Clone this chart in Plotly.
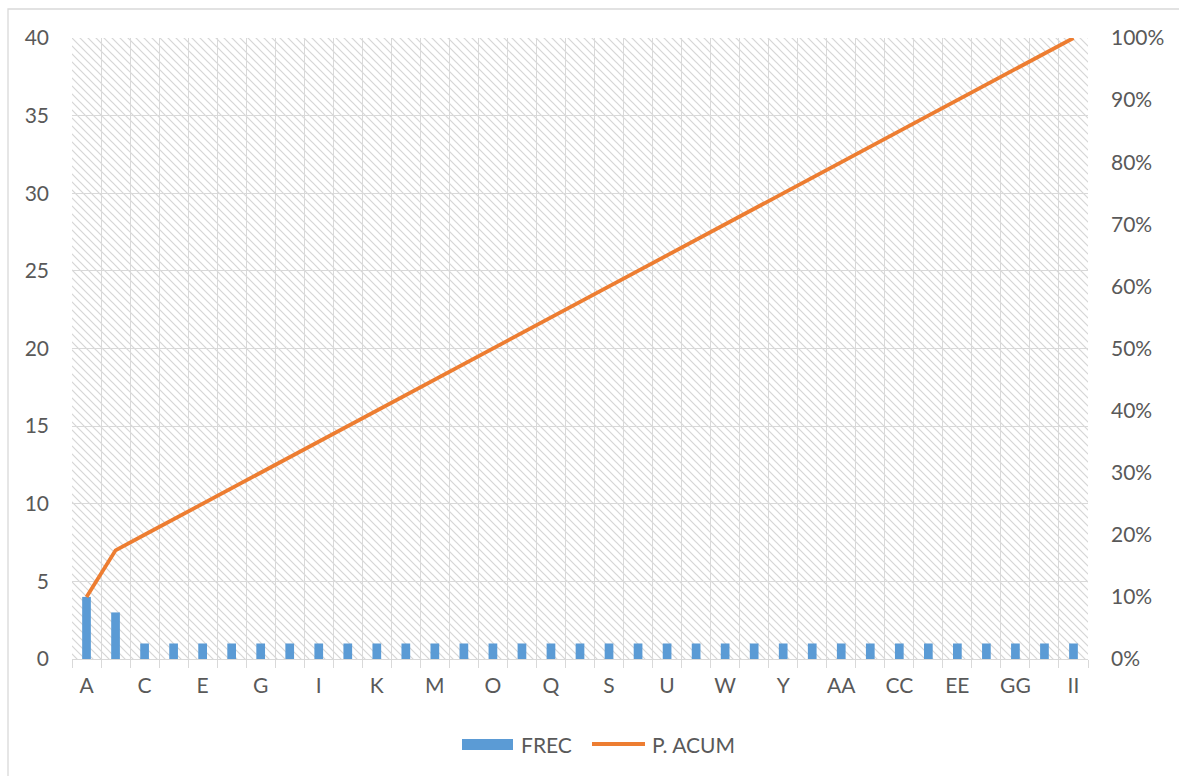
import plotly.graph_objects as go

# Categories A..Z, then AA..II
categories = [chr(c) for c in range(ord("A"), ord("Z") + 1)] + \
    ["AA", "BB", "CC", "DD", "EE", "FF", "GG", "HH", "II"]

# Frequency per category
frec = [4, 3] + [1] * 33

# Cumulative percentage per category
p_acum = [0.100, 0.175, 0.200, 0.225, 0.250, 0.275, 0.300, 0.325, 0.350,
          0.375, 0.400, 0.425, 0.450, 0.475, 0.500, 0.525, 0.550, 0.575,
          0.600, 0.625, 0.650, 0.675, 0.700, 0.725, 0.750, 0.775, 0.800,
          0.825, 0.850, 0.875, 0.900, 0.925, 0.950, 0.975, 1.000]

# Every other category gets a visible label
tick_text = [c if i % 2 == 0 else "" for i, c in enumerate(categories)]

W, H = 1179, 776
L, R, T, B = 72, 91, 38, 117
PW, PH = W - L - R, H - T - B

FONT = "Lato, 'Open Sans', sans-serif"
FS = 21
GRID = "#d9d9d9"
TEXT = "#595959"
BLUE = "#5b9bd5"
ORANGE = "#ed7d31"

# Diagonal hatch used as the plot-area fill
S = 8
hatch_svg = (
    f"<svg xmlns='http://www.w3.org/2000/svg' width='{PW}' height='{PH}'>"
    f"<defs><pattern id='h' patternUnits='userSpaceOnUse' width='{S}' height='{S}'>"
    f"<rect width='{S}' height='{S}' fill='white'/>"
    f"<path d='M-1,-1 L{S+1},{S+1} M-1,{S-1} L1,{S+1} M{S-1},-1 L{S+1},1' "
    "stroke='%23d6d6d6' stroke-width='1.2'/>"
    "</pattern></defs>"
    f"<rect width='{PW}' height='{PH}' fill='url(%23h)'/></svg>"
)
hatch_uri = "data:image/svg+xml;utf8," + hatch_svg.replace("<", "%3C").replace(">", "%3E").replace("'", "%27").replace(" ", "%20")


def px_x(px):
    return (px - L) / PW


def px_y(py):
    return (H - B - py) / PH


fig = go.Figure()
fig.add_trace(go.Bar(
    x=categories, y=frec, name="FREC",
    marker=dict(color=BLUE, line=dict(width=0)),
    width=0.3,
))
fig.add_trace(go.Scatter(
    x=categories, y=p_acum, name="P. ACUM", yaxis="y2",
    mode="lines", line=dict(color=ORANGE, width=3.8),
))

# Legend drawn below the plot: swatch + label for each series
legend_y = 744
shapes = [
    dict(type="rect", xref="paper", yref="paper",
         x0=px_x(8), x1=px_x(W + 20), y0=px_y(H + 20), y1=px_y(9),
         line=dict(color=GRID, width=1.3), fillcolor="rgba(0,0,0,0)",
         layer="below"),
    dict(type="rect", xref="paper", yref="paper",
         x0=px_x(462), x1=px_x(513), y0=px_y(750), y1=px_y(739),
         line=dict(width=0), fillcolor=BLUE),
    dict(type="line", xref="paper", yref="paper",
         x0=px_x(592), x1=px_x(645), y0=px_y(legend_y), y1=px_y(legend_y),
         line=dict(color=ORANGE, width=3.8)),
]
annotations = [
    dict(text="FREC", xref="paper", yref="paper", x=px_x(519), y=px_y(legend_y),
         xanchor="left", yanchor="middle", showarrow=False,
         font=dict(family=FONT, size=FS, color=TEXT)),
    dict(text="P. ACUM", xref="paper", yref="paper", x=px_x(650), y=px_y(legend_y),
         xanchor="left", yanchor="middle", showarrow=False,
         font=dict(family=FONT, size=FS, color=TEXT)),
]

fig.update_layout(
    width=W, height=H,
    margin=dict(l=L, r=R, t=T, b=B),
    paper_bgcolor="white",
    plot_bgcolor="rgba(0,0,0,0)",
    font=dict(family=FONT, size=FS, color=TEXT),
    showlegend=False,
    xaxis=dict(
        type="category",
        tickmode="array", tickvals=categories, ticktext=tick_text,
        tickson="boundaries", tickangle=0,
        showgrid=True, gridcolor=GRID, gridwidth=1.3,
        ticks="outside", ticklen=8, tickcolor=GRID, tickwidth=1.3,
        showline=True, linecolor=GRID, linewidth=1.3,
        ticklabelstandoff=8,
        tickfont=dict(family=FONT, size=FS, color=TEXT),
        zeroline=False,
        range=[-0.5, len(categories) - 0.5],
    ),
    yaxis=dict(
        range=[0, 40], dtick=5,
        showgrid=True, gridcolor=GRID, gridwidth=1.3,
        zeroline=False, showline=False,
        ticks="", ticklabelstandoff=22,
        tickfont=dict(family=FONT, size=FS, color=TEXT),
    ),
    yaxis2=dict(
        overlaying="y", side="right",
        range=[0, 1], dtick=0.1, tickformat=".0%",
        showgrid=False, zeroline=False, showline=False,
        ticks="", ticklabelstandoff=22,
        tickfont=dict(family=FONT, size=FS, color=TEXT),
    ),
    images=[dict(
        source=hatch_uri, xref="paper", yref="paper",
        x=0, y=1, sizex=1, sizey=1, xanchor="left", yanchor="top",
        sizing="stretch", layer="below",
    )],
    shapes=shapes,
    annotations=annotations,
)

fig.write_html("out.html")
